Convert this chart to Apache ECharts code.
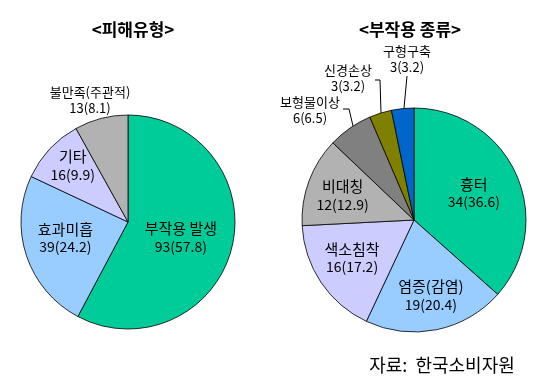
<!DOCTYPE html>
<html>
<head>
<meta charset="utf-8">
<script src="https://cdn.jsdelivr.net/npm/echarts@6/dist/echarts.min.js"></script>
<style>html,body{margin:0;padding:0;background:#fff;}#c{width:550px;height:389px;}</style>
</head>
<body>
<div id="c"></div>
<script>
// ---- data ----
var leftTitle = '<피해유형>';
var rightTitle = '<부작용 종류>';
var sourceText = '자료:  한국소비자원';
var leftNames = ['부작용 발생', '효과미흡', '기타', '불만족(주관적)'];
var leftValues = [93, 39, 16, 13];
var leftPercents = ['57.8', '24.2', '9.9', '8.1'];
var rightNames = ['흉터', '염증(감염)', '색소침착', '비대칭', '보형물이상', '신경손상', '구형구축'];
var rightValues = [34, 19, 16, 12, 6, 3, 3];
var rightPercents = ['36.6', '20.4', '17.2', '12.9', '6.5', '3.2', '3.2'];

// ---- styles / layout ----
var leftColors = ['#00CC99', '#99CCFF', '#CCCCFF', '#B2B2B2'];
var rightColors = ['#00CC99', '#99CCFF', '#CCCCFF', '#B2B2B2', '#808080', '#808000', '#0066CC'];
var leftOutside = [false, false, false, true];
var rightOutside = [false, false, false, false, true, true, true];
var leftLine = [false, false, false, false];
var rightLine = [false, false, false, false, true, true, true];
// inside labels: offset from library default; outside labels: absolute position + leader line
var leftLabelLayout = [{dx: -2, dy: 2}, {dx: -9, dy: -2}, {dx: -14, dy: -18}, {x: 90, y: 100}];
var rightLabelLayout = [{dx: 6, dy: -3}, {dx: 5, dy: 18}, {dx: -13, dy: 5}, {dx: -16, dy: -4},
  {x: 310, y: 110, labelLinePoints: [[353, 126], [349, 109], [343, 109]]},
  {x: 348, y: 78, labelLinePoints: [[381, 113], [380, 80], [375, 80]]},
  {x: 407, y: 59, labelLinePoints: [[404, 108], [407, 76]]}];

var FONT = '"Noto Sans CJK KR", "Noto Sans", sans-serif';

function buildData(names, values, percents, colors, outside, line) {
  return names.map(function (n, i) {
    var pre = outside[i] ? 'o' : 'i';
    return {
      name: n,
      value: values[i],
      itemStyle: {color: colors[i]},
      label: {
        position: outside[i] ? 'outside' : 'inside',
        formatter: '{' + pre + 'k|' + n + '}\n{' + pre + 'n|' + values[i] + '(' + percents[i] + ')}'
      },
      labelLine: {show: line[i]}
    };
  });
}

function layoutFn(arr) {
  return function (p) {
    var o = arr[p.dataIndex];
    var r = {align: 'center', verticalAlign: 'middle'};
    for (var k in o) r[k] = o[k];
    return r;
  };
}

var commonSeries = {
  type: 'pie',
  startAngle: 90,
  clockwise: true,
  avoidLabelOverlap: false,
  animation: false,
  silent: true,
  itemStyle: {borderColor: '#000', borderWidth: 0.8},
  label: {
    color: '#000',
    fontFamily: FONT,
    align: 'center',
    rich: {
      ik: {fontSize: 15, lineHeight: 18, color: '#000', fontFamily: FONT, align: 'center'},
      in: {fontSize: 14, lineHeight: 18, color: '#000', fontFamily: FONT, align: 'center'},
      ok: {fontSize: 13, lineHeight: 16, color: '#000', fontFamily: FONT, align: 'center'},
      on: {fontSize: 13, lineHeight: 16, color: '#000', fontFamily: FONT, align: 'center'}
    }
  },
  labelLine: {
    lineStyle: {color: '#000', width: 1},
    length: 12,
    length2: 6
  }
};

var chart = echarts.init(document.getElementById('c'), null, {renderer: 'canvas'});
chart.setOption({
  backgroundColor: '#fff',
  title: [
    {text: leftTitle, left: 128, top: 16, textAlign: 'center',
      textStyle: {fontSize: 17, fontWeight: 'bold', color: '#000', fontFamily: FONT}},
    {text: rightTitle, left: 405, top: 16, textAlign: 'center',
      textStyle: {fontSize: 17, fontWeight: 'bold', color: '#000', fontFamily: FONT}},
    {text: sourceText, left: 437, top: 351, textAlign: 'center',
      textStyle: {fontSize: 18, fontWeight: 'normal', color: '#000', fontFamily: FONT}}
  ],
  series: [
    Object.assign({}, commonSeries, {
      center: [128, 222],
      radius: 107,
      data: buildData(leftNames, leftValues, leftPercents, leftColors, leftOutside, leftLine),
      labelLayout: layoutFn(leftLabelLayout)
    }),
    Object.assign({}, commonSeries, {
      center: [414, 220],
      radius: 112,
      data: buildData(rightNames, rightValues, rightPercents, rightColors, rightOutside, rightLine),
      labelLayout: layoutFn(rightLabelLayout)
    })
  ]
});
</script>
</body>
</html>
